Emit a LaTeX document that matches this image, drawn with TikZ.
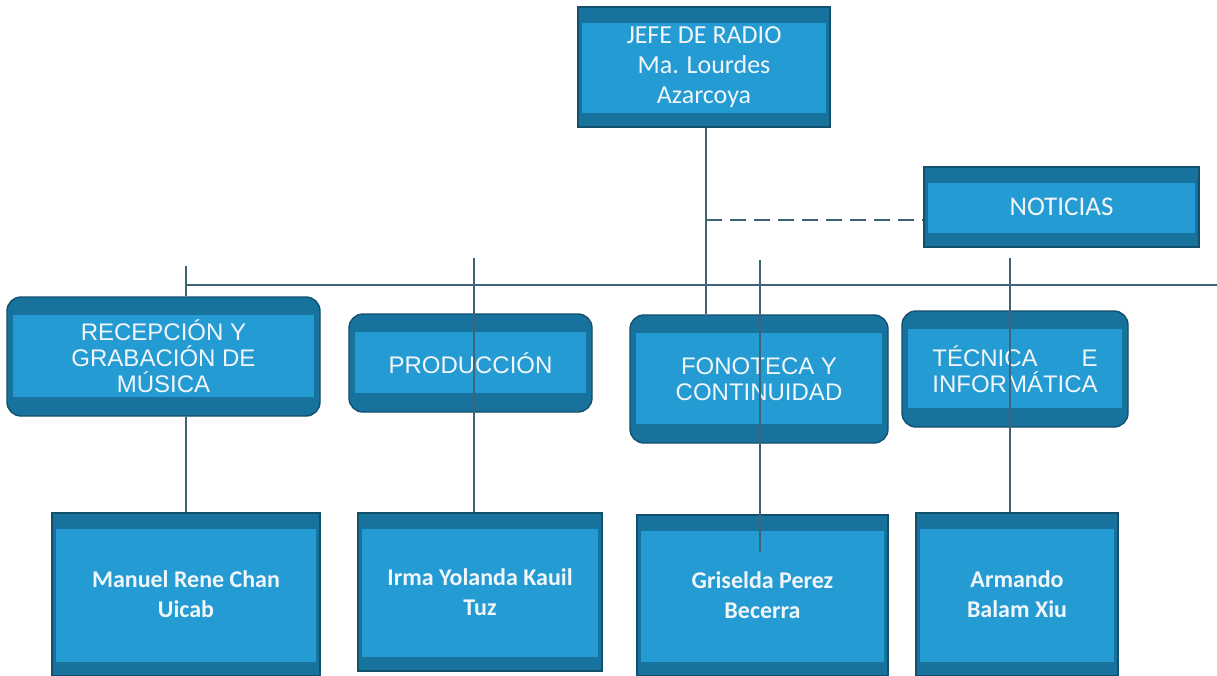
\documentclass[tikz,border=0pt]{standalone}
\usepackage{fontspec}
\usepackage{calc}
\setmainfont{Liberation Sans}
\newfontfamily\calfont{Carlito}
\definecolor{boxlight}{RGB}{36,155,210}
\definecolor{boxdark}{RGB}{24,114,158}
\definecolor{boxedge}{RGB}{18,80,110}
\definecolor{linec}{RGB}{62,100,120}
\definecolor{txt}{RGB}{240,246,250}
\begin{document}
\begin{tikzpicture}[x=1pt,y=-1pt,
  rbox/.style={draw=boxedge, line width=1.2pt, fill=boxdark, inner sep=0pt, text=txt, align=center,
    font=\calfont\fontsize{26}{30}\selectfont,
    path picture={\fill[boxlight, sharp corners] ([xshift=4pt,yshift=-16pt]path picture bounding box.north west) rectangle ([xshift=-4pt,yshift=14pt]path picture bounding box.south east);}},
  namebox/.style={rbox, font=\calfont\bfseries\fontsize{24}{30}\selectfont},
  dbox/.style={draw=boxedge, line width=1.4pt, fill=boxdark, inner sep=0pt, text=txt, align=center,
    rounded corners=14pt, font=\fontsize{24}{26}\selectfont,
    path picture={\fill[boxlight, sharp corners] ([xshift=6pt,yshift=-18pt]path picture bounding box.north west) rectangle ([xshift=-6pt,yshift=19pt]path picture bounding box.south east);}},
  conn/.style={draw=linec, line width=1.1pt},
  dashline/.style={conn, dash pattern=on 16pt off 8pt}
]
\useasboundingbox (0,0) rectangle (1217,675);
\clip (0,0) rectangle (1217,675);
\fill[white] (0,0) rectangle (1217,675);

\node[rbox, minimum width=252pt, minimum height=120pt] (jefe) at (704,67) {JEFE DE RADIO\\Ma. Lourdes\\Azarcoya};
\node[rbox, minimum width=275pt, minimum height=80pt, font=\calfont\fontsize{27}{30}\selectfont] (noti) at (1061.5,207) {NOTICIAS};

\node[dbox, minimum width=313pt, minimum height=119pt] (recep) at (163.5,356.5) {RECEPCIÓN Y\\GRABACIÓN DE\\MÚSICA};
\node[dbox, minimum width=243pt, minimum height=98pt] (prod) at (470.5,363) {PRODUCCIÓN};
\node[dbox, minimum width=258pt, minimum height=128pt] (fono) at (759,379) {FONOTECA Y\\CONTINUIDAD};
\node[dbox, minimum width=226pt, minimum height=116pt] (tec) at (1015,369) {\makebox[\widthof{INFORMÁTICA}][s]{TÉCNICA\hfill E}\\INFORMÁTICA};

\node[namebox, minimum width=268pt, minimum height=163pt] (manuel) at (186,594.5) {Manuel Rene Chan\\Uicab};
\node[namebox, minimum width=244pt, minimum height=158pt] (irma) at (480,592) {Irma Yolanda Kauil\\Tuz};
\node[namebox, minimum width=251pt, minimum height=161pt] (gris) at (762.5,595.5) {Griselda Perez\\Becerra};
\node[namebox, minimum width=202pt, minimum height=163pt] (arm) at (1017,594.5) {Armando\\Balam Xiu};

\coordinate (busL) at (186,285);
\coordinate (busR) at (1217,285);
\coordinate (t1) at (186,266);
\coordinate (t2) at (474,258);
\coordinate (t3) at (760,260);
\coordinate (e3) at (760,552);
\coordinate (t4) at (1010,258);

\draw[conn] ([xshift=2pt]jefe.south) -- ([xshift=2pt]jefe.south |- fono.north);
\draw[dashline] ([xshift=2pt,yshift=-13pt]jefe.south |- noti.west) -- ([yshift=-13pt]noti.west);
\draw[conn] (busL) -- (busR);
\draw[conn] (t1) -- (t1 |- recep.north);
\draw[conn] (t1 |- recep.south) -- (t1 |- manuel.north);
\draw[conn] (t2) -- (t2 |- irma.north);
\draw[conn] (t3) -- (e3);
\draw[conn] (t4) -- (t4 |- arm.north);
\end{tikzpicture}
\end{document}
